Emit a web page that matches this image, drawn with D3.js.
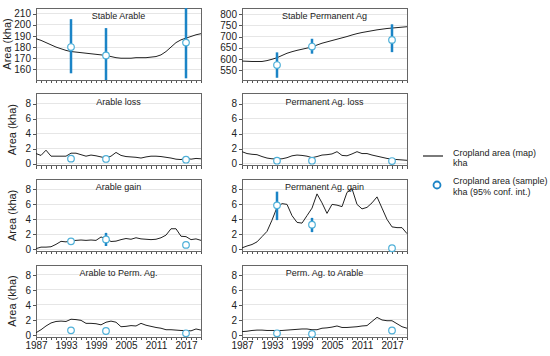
<!DOCTYPE html>
<html lang="en">
    <head>
        <meta charset="utf-8">
        <title>Cropland area, map vs sample</title>
        <script type="text/javascript" src="https://cdn.jsdelivr.net/npm/d3@7"></script>
        <style type="text/css">
          body { margin: 0; background: white; }
          .axis path { display: none; }
          .axis line { stroke: #555; shape-rendering: crispEdges; }
          .axis text { font-family: "Liberation Sans", Arial, sans-serif; font-size: 10px; fill: #222; }
          .grid line { stroke: #e6e6e6; shape-rendering: crispEdges; }
          .frame { fill: none; stroke: #666; shape-rendering: crispEdges; }
          .title { font-family: "Liberation Sans", Arial, sans-serif; font-size: 9px; text-anchor: middle; fill: #222; }
          .ylabel { font-family: "Liberation Sans", Arial, sans-serif; font-size: 11px; text-anchor: middle; fill: #222; }
          .legend { font-family: "Liberation Sans", Arial, sans-serif; font-size: 9px; fill: #222; }
          .line { fill: none; stroke: #222; stroke-width: 1; }
          .ci { stroke: #1b84c6; stroke-width: 2.5; }
          .pt { fill: white; stroke: #4fb0d8; stroke-width: 1.2; }
        </style>
    </head>
    <body>
        <script type="text/javascript">
            // Data (kha)
            var years = [1987, 1988, 1989, 1990, 1991, 1992, 1993, 1994, 1995, 1996, 1997, 1998, 1999, 2000, 2001, 2002, 2003,
                         2004, 2005, 2006, 2007, 2008, 2009, 2010, 2011, 2012, 2013, 2014, 2015, 2016, 2017, 2018, 2019, 2020];
            var yearLabels = [1987, 1993, 1999, 2005, 2011, 2017];
            var sampleYears = [1994, 2001, 2017];

            var stableArableMap = [187.5, 186, 184, 182, 180, 178.5, 177, 176, 175.5, 175, 174.5, 174, 173.5, 173, 172.5, 171.5, 170.5,
                                   170, 170, 170, 170.5, 170.5, 170.5, 171, 171.5, 173, 176, 180, 184, 186.5, 188, 189.5, 191, 192];
            var stableArableSample = [180, 172.5, 184];
            var stableArableLow = [156.5, 148, 152];
            var stableArableHigh = [205, 197, 225];

            var stablePermMap = [590, 589, 588, 588, 588, 592, 598, 605, 615, 625, 632, 638, 643, 648, 653, 662, 670,
                                 676, 682, 688, 694, 700, 707, 713, 718, 722, 726, 730, 733, 736, 738, 740, 742, 744];
            var stablePermSample = [572, 655, 685];
            var stablePermLow = [515, 623, 630];
            var stablePermHigh = [629, 690, 755];

            var arableLossMap = [1.35, 1.1, 1.8, 1.0, 1.0, 1.0, 1.0, 1.4, 1.4, 1.2, 1.0, 1.15, 1.05, 0.9, 0.75, 1.0, 1.5,
                                 1.1, 0.95, 0.9, 0.85, 0.75, 0.9, 1.0, 1.0, 0.95, 0.85, 0.75, 0.6, 0.55, 0.75, 0.6, 0.7, 0.65];
            var arableLossSample = [0.67, 0.63, 0.53];

            var permLossMap = [1.6, 1.35, 1.25, 1.2, 0.95, 0.75, 0.65, 0.65, 0.65, 0.8, 1.05, 1.15, 1.1, 1.0, 0.8, 0.95, 1.15,
                               1.2, 1.3, 1.6, 1.1, 1.05, 1.3, 1.6, 1.35, 1.35, 1.15, 1.0, 0.85, 0.7, 0.6, 0.55, 0.5, 0.45];
            var permLossSample = [0.4, 0.4, 0.35];

            var arableGainMap = [0.1, 0.3, 0.3, 0.35, 0.67, 1.07, 1.0, 1.15, 1.2, 1.25, 1.2, 1.25, 1.2, 1.65, 1.45, 1.05, 1.1,
                                 1.3, 1.45, 1.35, 1.55, 1.4, 1.35, 1.3, 1.35, 1.55, 1.9, 2.75, 2.75, 1.75, 1.7, 1.3, 1.4, 1.2];
            var arableGainSample = [1.07, 1.33, 0.6];
            var arableGainLow = [null, 0.45, null];
            var arableGainHigh = [null, 2.2, null];

            var permGainMap = [0.2, 0.45, 0.65, 1.0, 1.7, 2.4, 3.9, 5.6, 6.1, 6.0, 4.5, 3.6, 3.5, 4.5, 5.5, 7.4, 6.2,
                               4.8, 6.0, 5.9, 5.7, 7.6, 8.1, 6.0, 5.4, 5.6, 6.2, 7.0, 5.5, 4.0, 3.0, 2.9, 2.9, 2.1];
            var permGainSample = [5.87, 3.29, 0.15];
            var permGainLow = [3.9, 2.3, null];
            var permGainHigh = [7.7, 4.2, null];

            var arableToPermMap = [0.3, 0.7, 1.2, 1.6, 1.8, 1.85, 1.8, 2.1, 2.05, 1.95, 1.55, 1.55, 1.5, 1.35, 1.7, 1.85, 1.7,
                                   1.1, 1.15, 1.25, 1.2, 1.55, 1.3, 1.15, 1.0, 0.9, 0.7, 0.7, 0.65, 0.6, 0.6, 0.55, 0.8, 0.65];
            var arableToPermSample = [0.62, 0.53, 0.22];

            var permToArableMap = [0.45, 0.5, 0.6, 0.65, 0.65, 0.6, 0.6, 0.6, 0.6, 0.65, 0.7, 0.75, 0.8, 0.8, 0.7, 0.7, 0.9,
                                   0.95, 1.05, 1.2, 1.0, 1.0, 1.05, 1.1, 1.2, 1.25, 1.8, 2.35, 2.0, 1.9, 1.9, 1.5, 1.1, 0.9];
            var permToArableSample = [0.22, 0.13, 0.6];

            var smallTicks = [0, 2, 4, 6, 8];

            var panels = [
              {title: "Stable Arable", map: stableArableMap, sample: stableArableSample, low: stableArableLow, high: stableArableHigh,
               domain: [150.5, 215], ticks: [160, 170, 180, 190, 200, 210], col: 0, row: 0},
              {title: "Stable Permanent Ag", map: stablePermMap, sample: stablePermSample, low: stablePermLow, high: stablePermHigh,
               domain: [505, 828], ticks: [550, 600, 650, 700, 750, 800], col: 1, row: 0},
              {title: "Arable loss", map: arableLossMap, sample: arableLossSample, col: 0, row: 1},
              {title: "Permanent Ag. loss", map: permLossMap, sample: permLossSample, col: 1, row: 1},
              {title: "Arable gain", map: arableGainMap, sample: arableGainSample, low: arableGainLow, high: arableGainHigh, col: 0, row: 2},
              {title: "Permanent Ag. gain", map: permGainMap, sample: permGainSample, low: permGainLow, high: permGainHigh, col: 1, row: 2},
              {title: "Arable to Perm. Ag.", map: arableToPermMap, sample: arableToPermSample, col: 0, row: 3},
              {title: "Perm. Ag. to Arable", map: permToArableMap, sample: permToArableSample, col: 1, row: 3}
            ];

            // Layout
            var w = 550, h = 356;
            var colX = [36, 242];
            var pw = 165, ph = 72;
            var rowY = [8, 93.7, 179.4, 265];

            var svg = d3.select("body").append("svg")
            .attr("width", w)
            .attr("height", h);

            var x = d3.scaleLinear().domain([1987, 2020]).range([0, pw]);

            panels.forEach(function(p) {
              var g = svg.append("g")
              .attr("transform", "translate(" + colX[p.col] + "," + rowY[p.row] + ")");

              var y = d3.scaleLinear()
              .domain(p.domain || [-0.27, 9.33])
              .range([ph, 0])
              .clamp(true);
              var yt = p.ticks || smallTicks;

              // grid
              g.append("g")
              .attr("class", "grid")
              .selectAll("line")
              .data(yt)
              .enter()
              .append("line")
              .attr("x1", 0)
              .attr("x2", pw)
              .attr("y1", function(d) { return y(d); })
              .attr("y2", function(d) { return y(d); });

              // axes
              g.append("g")
              .attr("class", "axis")
              .call(d3.axisLeft(y).tickValues(yt).tickSize(3).tickPadding(2));

              g.append("g")
              .attr("class", "axis")
              .attr("transform", "translate(0," + ph + ")")
              .call(d3.axisBottom(x).tickValues(years).tickSize(3).tickPadding(2)
                .tickFormat(function(d) {
                  return (p.row == 3 && yearLabels.indexOf(d) >= 0) ? d : "";
                }));

              g.append("rect")
              .attr("class", "frame")
              .attr("x", 0)
              .attr("y", 0)
              .attr("width", pw)
              .attr("height", ph);

              // map line
              var line = d3.line()
              .x(function(d, i) { return x(years[i]); })
              .y(function(d) { return y(d); });

              g.append("path")
              .datum(p.map)
              .attr("class", "line")
              .attr("d", line);

              // sample confidence intervals
              if (p.low) {
                g.selectAll(".ci")
                .data(sampleYears.filter(function(d, i) { return p.low[i] != null; }))
                .enter()
                .append("line")
                .attr("class", "ci")
                .attr("x1", function(d) { return x(d); })
                .attr("x2", function(d) { return x(d); })
                .attr("y1", function(d) { var i = sampleYears.indexOf(d); return y(p.low[i]); })
                .attr("y2", function(d) { var i = sampleYears.indexOf(d); return y(p.high[i]); });
              }

              g.selectAll(".pt")
              .data(p.sample)
              .enter()
              .append("circle")
              .attr("class", "pt")
              .attr("cx", function(d, i) { return x(sampleYears[i]); })
              .attr("cy", function(d) { return y(d); })
              .attr("r", 3.3);

              g.append("text")
              .attr("class", "title")
              .attr("x", pw / 2)
              .attr("y", 11)
              .text(p.title);

              if (p.col == 0) {
                g.append("text")
                .attr("class", "ylabel")
                .attr("transform", "rotate(-90)")
                .attr("x", -ph / 2)
                .attr("y", p.row == 0 ? -25 : -20)
                .text("Area (kha)");
              }
            });

            // Legend
            var legend = svg.append("g");

            legend.append("line")
            .attr("x1", 423)
            .attr("x2", 443)
            .attr("y1", 156)
            .attr("y2", 156)
            .style("stroke", "#222")
            .style("stroke-width", 1.2);

            legend.append("text")
            .attr("class", "legend")
            .attr("x", 453)
            .attr("y", 156)
            .text("Cropland area (map)");

            legend.append("text")
            .attr("class", "legend")
            .attr("x", 453)
            .attr("y", 166)
            .text("kha");

            legend.append("circle")
            .attr("cx", 437)
            .attr("cy", 185)
            .attr("r", 3.5)
            .style("fill", "white")
            .style("stroke", "#1b84c6")
            .style("stroke-width", 1.8);

            legend.append("text")
            .attr("class", "legend")
            .attr("x", 453)
            .attr("y", 184)
            .text("Cropland area (sample)");

            legend.append("text")
            .attr("class", "legend")
            .attr("x", 453)
            .attr("y", 195)
            .text("kha (95% conf. int.)");
        </script>
    </body>
</html>
